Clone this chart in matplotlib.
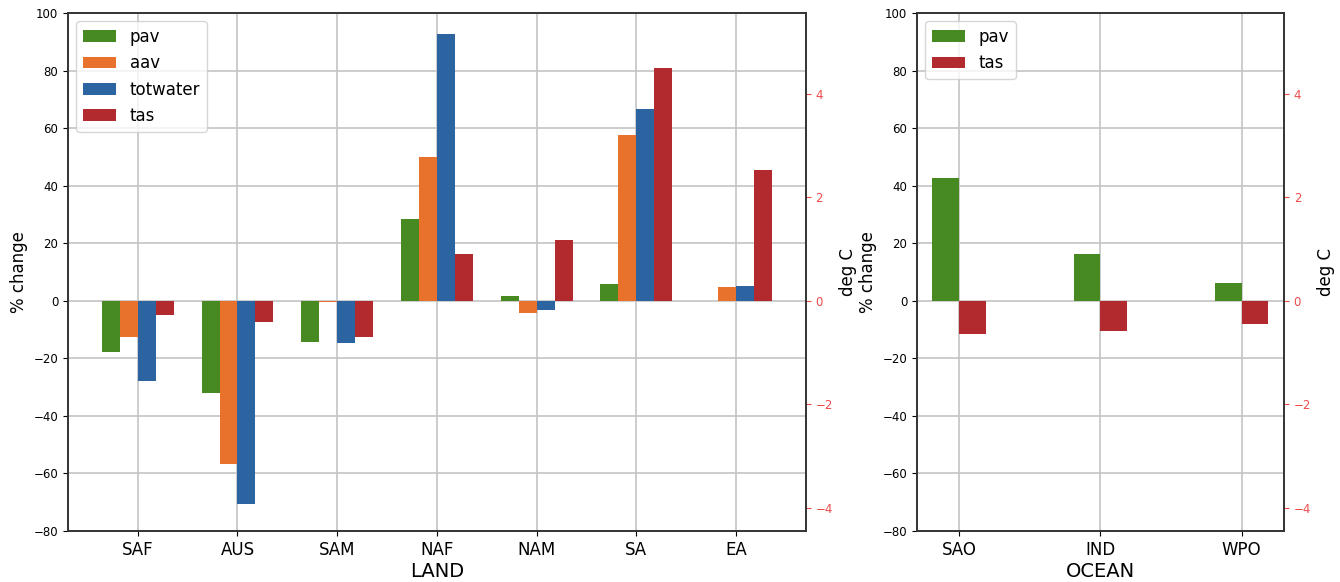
import matplotlib
matplotlib.use("AGG")

import matplotlib.pyplot as plt
import numpy as np

# ── Data ────────────────────────────────────────────────────────────────────
LAND_REGIONS = ["SAF", "AUS", "SAM", "NAF", "NAM", "SA", "EA"]
LAND_PAV = [-17.7, -32.2, -14.3, 28.3, 1.6, 5.9, 0.0]
LAND_AAV = [-12.5, -56.8, -0.4, 49.9, -4.4, 57.7, 4.7]
LAND_TOTWATER = [-27.9, -70.7, -14.8, 92.6, -3.1, 66.7, 5.1]
LAND_TAS = [-0.28, -0.41, -0.70, 0.90, 1.17, 4.50, 2.53]

OCEAN_REGIONS = ["SAO", "IND", "WPO"]
OCEAN_PAV = [42.6, 16.2, 6.3]
OCEAN_TAS = [-0.645, -0.59, -0.44]

PCT_LIM = (-80, 100)
SCALE = 18.0  # % per deg C between the two y axes

# ── Style ───────────────────────────────────────────────────────────────────
GREEN = "#478a22"
ORANGE = "#e8722c"
BLUE = "#2b64a1"
RED = "#b2292e"
TICK_RED = "#ee4a4a"
GRID = "#c4c4c4"
SPINE = "#333333"


def _style(ax, twin, regions, xlabel, xlim):
    ax.set_xlim(*xlim)
    ax.set_ylim(*PCT_LIM)
    twin.set_ylim(PCT_LIM[0] / SCALE, PCT_LIM[1] / SCALE)
    ax.set_xticks(np.arange(len(regions)))
    ax.set_xticklabels(regions, fontsize=12)
    ax.set_xlabel(xlabel, fontsize=14, labelpad=2)
    ax.set_ylabel("% change", fontsize=12)
    twin.set_ylabel("deg C", fontsize=12)
    ax.tick_params(axis="y", labelsize=8.5)
    twin.set_yticks([-4, -2, 0, 2, 4])
    twin.tick_params(axis="y", colors=TICK_RED, labelsize=8.5)
    ax.grid(True, color=GRID, linewidth=1.2)
    ax.set_axisbelow(True)
    for a in (ax, twin):
        for s in a.spines.values():
            s.set_color(SPINE)
            s.set_linewidth(1.2)


fig = plt.figure(figsize=(13.4, 5.82), dpi=100)
ax1 = fig.add_axes([0.0507, 0.0876, 0.5507, 0.890])
ax2 = fig.add_axes([0.6843, 0.0876, 0.2739, 0.890])

# ── LAND panel ──────────────────────────────────────────────────────────────
w = 0.18
x = np.arange(len(LAND_REGIONS))
tw1 = ax1.twinx()
h1 = ax1.bar(x - 2 * w, LAND_PAV, w, align="edge", color=GREEN, label="pav")
h2 = ax1.bar(x - w, LAND_AAV, w, align="edge", color=ORANGE, label="aav")
h3 = ax1.bar(x, LAND_TOTWATER, w, align="edge", color=BLUE, label="totwater")
h4 = tw1.bar(x + w, LAND_TAS, w, align="edge", color=RED, label="tas")
_style(ax1, tw1, LAND_REGIONS, "LAND", (-0.7, 6.7))
tw1.legend(handles=[h1, h2, h3, h4], loc="upper left", fontsize=12)

# ── OCEAN panel ─────────────────────────────────────────────────────────────
w2 = 0.19
x2 = np.arange(len(OCEAN_REGIONS))
tw2 = ax2.twinx()
g1 = ax2.bar(x2 - w2, OCEAN_PAV, w2, align="edge", color=GREEN, label="pav")
g2 = tw2.bar(x2, OCEAN_TAS, w2, align="edge", color=RED, label="tas")
_style(ax2, tw2, OCEAN_REGIONS, "OCEAN", (-0.3, 2.3))
tw2.legend(handles=[g1, g2], loc="upper left", fontsize=12)

fig.savefig("out.png", dpi=100, facecolor="white")
